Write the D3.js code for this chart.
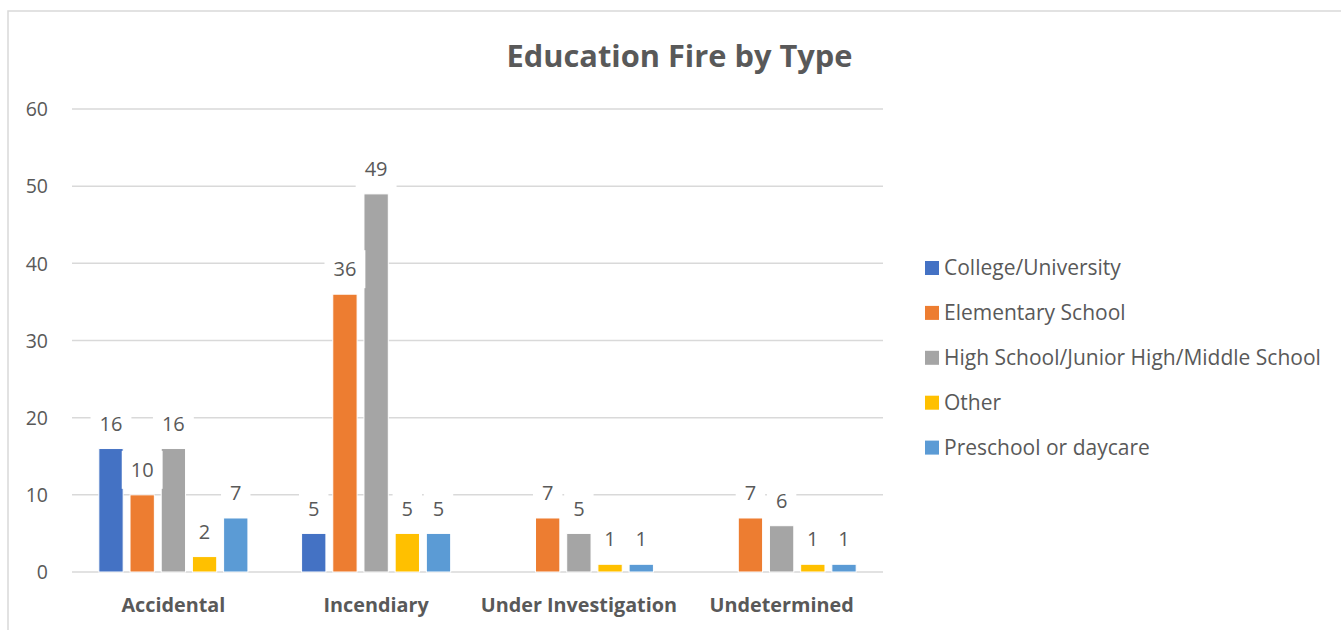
<!DOCTYPE html>
<html>
<head>
<meta charset="utf-8">
<script src="https://cdn.jsdelivr.net/npm/d3@7"></script>
<style>
  html, body { margin: 0; padding: 0; background: #fff; }
  svg { display: block; }
  text { font-family: "Open Sans", "Noto Sans", sans-serif; fill: #595959; }
</style>
</head>
<body>
<svg id="chart" width="1341" height="630"></svg>
<script>
const title = "Education Fire by Type";
const categories = ["Accidental", "Incendiary", "Under Investigation", "Undetermined"];
const seriesNames = ["College/University", "Elementary School", "High School/Junior High/Middle School", "Other", "Preschool or daycare"];
const seriesColors = ["#4472C4", "#ED7D31", "#A5A5A5", "#FFC000", "#5B9BD5"];
const collegeUniversity = [16, 5, null, null];
const elementarySchool = [10, 36, 7, 7];
const highSchool = [16, 49, 5, 6];
const other = [2, 5, 1, 1];
const preschool = [7, 5, 1, 1];
const yTicks = [0, 10, 20, 30, 40, 50, 60];

const seriesValues = [collegeUniversity, elementarySchool, highSchool, other, preschool];

const svg = d3.select("#chart");
const W = 1341, H = 630;
const plot = { left: 72, right: 883, top: 109, bottom: 572 };

// outer chart border
svg.append("rect")
  .attr("x", 8).attr("y", 11)
  .attr("width", W + 10).attr("height", H + 10)
  .attr("fill", "#fff").attr("stroke", "#d9d9d9").attr("stroke-width", 1.5);

const x0 = d3.scaleBand().domain(categories).range([plot.left, plot.right]).padding(0);
const x1 = d3.scaleBand().domain(seriesNames).range([0, x0.bandwidth()])
  .paddingInner(0.22).paddingOuter(0.86);
const y = d3.scaleLinear().domain([0, 60]).range([plot.bottom, plot.top]);

// gridlines
svg.append("g").selectAll("line").data(yTicks).join("line")
  .attr("x1", plot.left).attr("x2", plot.right)
  .attr("y1", d => y(d)).attr("y2", d => y(d))
  .attr("stroke", "#d9d9d9").attr("stroke-width", 1.5);

// y axis labels via d3 axis
const yAxis = svg.append("g")
  .attr("transform", `translate(${plot.left - 24},0)`)
  .call(d3.axisLeft(y).tickValues(yTicks).tickSize(0).tickPadding(0));
yAxis.select(".domain").remove();
yAxis.selectAll("text")
  .attr("font-family", '"Open Sans", sans-serif')
  .attr("font-size", 19.5).attr("fill", "#595959").attr("dy", "0.35em");

// x axis labels
const xAxis = svg.append("g")
  .attr("transform", `translate(0,${plot.bottom})`)
  .call(d3.axisBottom(x0).tickSize(0).tickPadding(0));
xAxis.select(".domain").remove();
xAxis.selectAll("text")
  .attr("font-family", '"Open Sans", sans-serif')
  .attr("font-size", 19.8).attr("font-weight", "bold").attr("fill", "#595959")
  .attr("y", 39.5).attr("dy", 0);

// flatten data
const items = [];
categories.forEach((c, ci) => {
  seriesNames.forEach((s, si) => {
    const v = seriesValues[si][ci];
    if (v !== null && v !== undefined) items.push({ cat: c, series: s, si, value: v });
  });
});

// bars
svg.append("g").selectAll("rect").data(items).join("rect")
  .attr("x", d => x0(d.cat) + x1(d.series))
  .attr("y", d => y(d.value))
  .attr("width", x1.bandwidth())
  .attr("height", d => y(0) - y(d.value))
  .attr("fill", d => seriesColors[d.si])
  .attr("stroke", "#fff").attr("stroke-width", 1);

// data labels with white boxes
const lbl = svg.append("g").selectAll("g").data(items).join("g")
  .attr("transform", d => `translate(${x0(d.cat) + x1(d.series) + x1.bandwidth() / 2},${y(d.value) - 25})`);
lbl.append("rect").attr("class", "bg").attr("fill", "#fff");
lbl.append("text")
  .attr("text-anchor", "middle").attr("dy", "0.36em")
  .attr("font-size", 20).attr("fill", "#404040")
  .text(d => d.value);
lbl.each(function () {
  const g = d3.select(this);
  const w = g.select("text").node().getComputedTextLength() + 18;
  g.select("rect").attr("x", -w / 2).attr("y", -19).attr("width", w).attr("height", 38);
});

// title
svg.append("text")
  .attr("x", 679.5).attr("y", 67)
  .attr("text-anchor", "middle")
  .attr("font-size", 30.8).attr("font-weight", "bold").attr("fill", "#595959")
  .text(title);

// legend
const legend = svg.append("g").selectAll("g").data(seriesNames).join("g")
  .attr("transform", (d, i) => `translate(925,${268 + i * 44.9})`);
legend.append("rect")
  .attr("x", 0).attr("y", -7).attr("width", 14).attr("height", 14)
  .attr("fill", (d, i) => seriesColors[i]);
legend.append("text")
  .attr("x", 19).attr("dy", "0.35em")
  .attr("font-size", 21).attr("fill", "#595959")
  .text(d => d);
</script>
</body>
</html>
